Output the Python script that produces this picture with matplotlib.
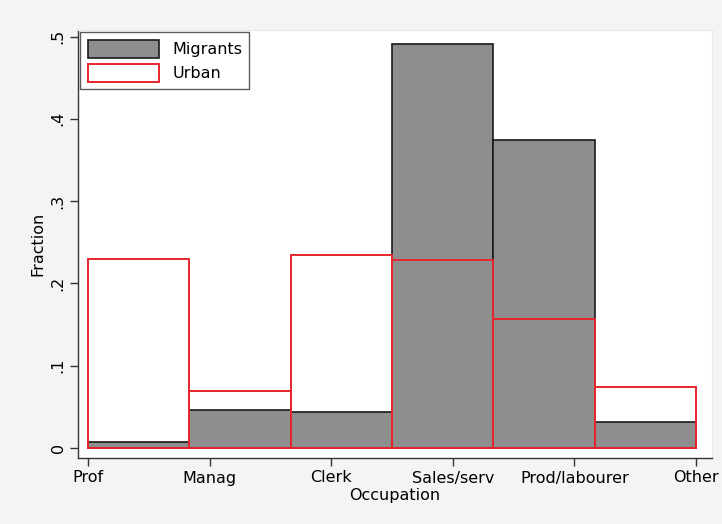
import matplotlib
matplotlib.use("Agg")
import matplotlib.pyplot as plt
from matplotlib.patches import Patch
import numpy as np

categories = ["Prof", "Manag", "Clerk", "Sales/serv", "Prod/labourer", "Other"]
migrants = [0.007, 0.046, 0.044, 0.491, 0.374, 0.031]
urban = [0.230, 0.069, 0.235, 0.229, 0.157, 0.074]
yticks = [0, 0.1, 0.2, 0.3, 0.4, 0.5]
ytick_labels = ["0", ".1", ".2", ".3", ".4", ".5"]

plt.rcParams['font.family'] = ['DejaVu Sans']

fig = plt.figure(figsize=(7.22, 5.24), dpi=100, facecolor='#f4f4f4')
ax = fig.add_axes([78/722, (524-458)/524, (712-78)/722, (458-30)/524])
ax.set_facecolor('white')

x = np.arange(1, len(categories) + 1)
ax.bar(x, migrants, width=1.0, align='edge', color='#8e8e8e',
       edgecolor='#1a1a1a', linewidth=1.2, zorder=2)
ax.bar(x, urban, width=1.0, align='edge', color='none',
       edgecolor='#e8262e', linewidth=1.4, zorder=3)

ax.set_xlim(0.901, 7.158)
ax.set_ylim(-0.0122, 0.508)

ax.set_xticks(np.linspace(1, len(categories) + 1, len(categories)))
ax.set_xticklabels(categories, fontsize=11.5)
ax.set_yticks(yticks)
ax.set_yticklabels(ytick_labels, fontsize=11.5, rotation=90, va='center')
ax.tick_params(axis='both', direction='out', length=6, width=1, color='#333333')
ax.tick_params(axis='x', pad=3)
ax.tick_params(axis='y', pad=3)

for s in ['top', 'right']:
    ax.spines[s].set_color('#e8e8e8')
    ax.spines[s].set_linewidth(0.8)
for s in ['left', 'bottom']:
    ax.spines[s].set_color('#333333')
    ax.spines[s].set_linewidth(1.0)

ax.set_xlabel("Occupation", fontsize=11.5, labelpad=2)
ax.set_ylabel("Fraction", fontsize=11.5, labelpad=4)

handles = [Patch(facecolor='#8e8e8e', edgecolor='#1a1a1a', linewidth=1.2, label='Migrants'),
           Patch(facecolor='white', edgecolor='#e8262e', linewidth=1.4, label='Urban')]
leg = ax.legend(handles=handles, loc='upper left', fontsize=11.5, frameon=True,
                fancybox=False, edgecolor='#333333', handlelength=4.5,
                handleheight=1.35, borderaxespad=0.15, borderpad=0.45,
                labelspacing=0.4, handletextpad=0.8)
leg.get_frame().set_linewidth(1.0)

fig.savefig("out.png", dpi=100, facecolor=fig.get_facecolor())
